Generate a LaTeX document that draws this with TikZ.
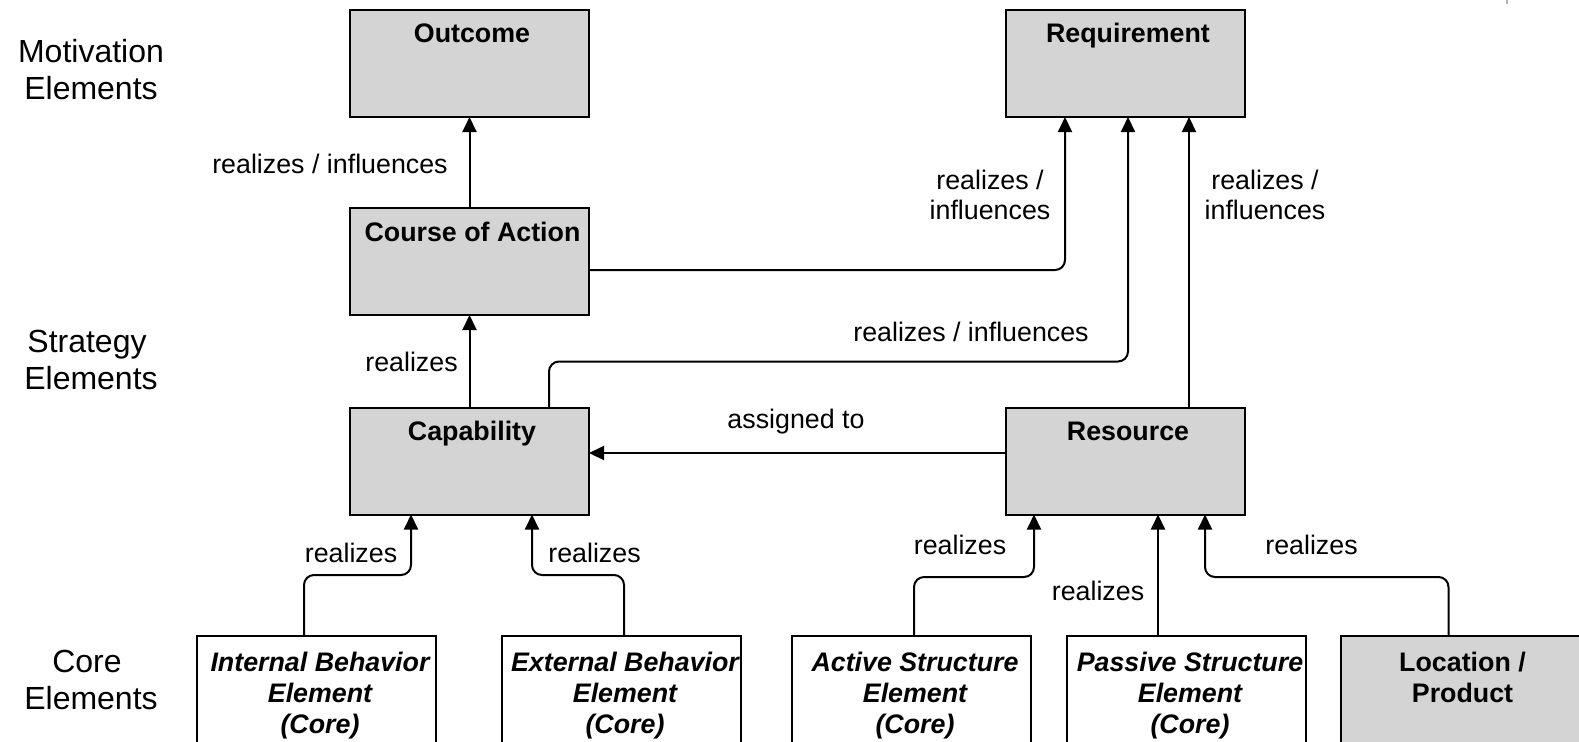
\documentclass[tikz,border=0pt]{standalone}
\usepackage{fontspec}
\setmainfont{Liberation Sans}
\usetikzlibrary{arrows.meta,calc}
\definecolor{boxgray}{RGB}{212,212,212}
\begin{document}
\begin{tikzpicture}[x=0.5pt,y=-0.5pt,
  box/.style={draw=black, line width=1pt, fill=boxgray, minimum width=119.5pt, minimum height=53.5pt, inner sep=0pt, outer sep=0pt},
  corebox/.style={box, fill=white, minimum height=70pt},
  title/.style={font=\fontsize{13.4}{15.5}\selectfont\bfseries, anchor=base, inner sep=0pt},
  coretext/.style={font=\fontsize{13.4}{15.5}\selectfont\bfseries\itshape, align=center, anchor=north, inner sep=0pt},
  loctext/.style={font=\fontsize{13.4}{15.5}\selectfont\bfseries, align=center, anchor=north, inner sep=0pt},
  lbl/.style={font=\fontsize{13.4}{15.5}\selectfont, inner sep=0pt, anchor=base},
  lbltwo/.style={font=\fontsize{13.4}{15}\selectfont, inner sep=0pt, align=center, anchor=north},
  side/.style={font=\fontsize{16}{18.6}\selectfont, inner sep=0pt, align=center, anchor=north},
  conn/.style={line width=1pt, rounded corners=5pt, -{Triangle[length=7.5pt,width=7pt]}},
]
\useasboundingbox (0,0) rectangle (1579,741);
\clip (0,0) rectangle (1579,741);

% side labels
\node[side] (motiv) at (91,39) {Motivation\\Elements};
\node[side] (strat) at (91,330) {Strategy\hbox to 4pt{}\\Elements};
\node[side] (core) at (91,650) {Core\hbox to 4pt{}\\Elements};

% boxes
\node[box] (outcome) at (469.5,63.5) {};
\node[box] (requirement) at (1125.5,63.5) {};
\node[box] (coa) at (469.5,261.5) {};
\node[box] (capability) at (469.5,461) {};
\node[box] (resource) at (1125.5,461) {};
\node[corebox] (internal) at (316.5,706) {};
\node[corebox] (external) at (621.5,706) {};
\node[corebox] (active) at (911,706) {};
\node[corebox] (passive) at (1186,706) {};
\node[box, minimum height=70pt] (location) at (1460.5,706) {};

% titles
\node[title] (outcomeT) at (472,42.5) {Outcome};
\node[title] (requirementT) at (1128,42.5) {Requirement};
\node[title] (coaT) at (472.5,241) {Course of Action};
\node[title] (capabilityT) at (472,440.5) {Capability};
\node[title] (resourceT) at (1128,440.5) {Resource};
\node[coretext] (internalT) at (320,651.5) {Internal Behavior\\Element\\(Core)};
\node[coretext] (externalT) at (625,651.5) {External Behavior\\Element\\(Core)};
\node[coretext] (activeT) at (915,651.5) {Active Structure\\Element\\(Core)};
\node[coretext] (passiveT) at (1190,651.5) {Passive Structure\\Element\\(Core)};
\node[loctext] (locationT) at (1462.5,651.5) {Location /\\Product};

% connectors
\draw[conn] (coa.north) -- (outcome.south);
\draw[conn] ([yshift=-4.25pt]coa.east) -| ([xshift=-30.25pt]requirement.south);
\draw[conn] ([xshift=39.75pt]capability.north) -- ++(0,-46) -| ([xshift=1.25pt]requirement.south);
\draw[conn] ([xshift=31.75pt]resource.north) -- ([xshift=31.75pt]requirement.south);
\draw[conn] ([yshift=4pt]resource.west) -- ([yshift=4pt]capability.east);
\draw[conn] (capability.north) -- (coa.south);
\draw[conn] ([xshift=-6.25pt]internal.north) -- ++(0,-61) -| ([xshift=-29.25pt]capability.south);
\draw[conn] ([xshift=1.25pt]external.north) -- ++(0,-61) -| ([xshift=31.25pt]capability.south);
\draw[conn] ([xshift=1.5pt]active.north) -- ++(0,-59) -| ([xshift=-45.75pt]resource.south);
\draw[conn] ([xshift=-14pt]passive.north) -- ([xshift=16.25pt]resource.south);
\draw[conn] ([xshift=-6pt]location.north) -- ++(0,-59) -| ([xshift=39.75pt]resource.south);

% connector labels
\node[lbl] (l1) at (330,173) {realizes / influences};
\node[lbltwo] (l2) at (990,169.5) {realizes /\\influences};
\node[lbltwo] (l3) at (1265,169.5) {realizes /\\influences};
\node[lbl] (l4) at (971,341) {realizes / influences};
\node[lbl] (l5) at (796,428) {assigned to};
\node[lbl] (l6) at (411.5,371) {realizes};
\node[lbl] (l7) at (351,562.5) {realizes};
\node[lbl] (l8) at (594.5,562.5) {realizes};
\node[lbl] (l9) at (960,554.5) {realizes};
\node[lbl] (l10) at (1098,600.5) {realizes};
\node[lbl] (l11) at (1311.5,554.5) {realizes};

% small grey mark at top edge
\draw[gray!60, line width=1pt] (1507,0) -- (1507,3.5);
\end{tikzpicture}
\end{document}
